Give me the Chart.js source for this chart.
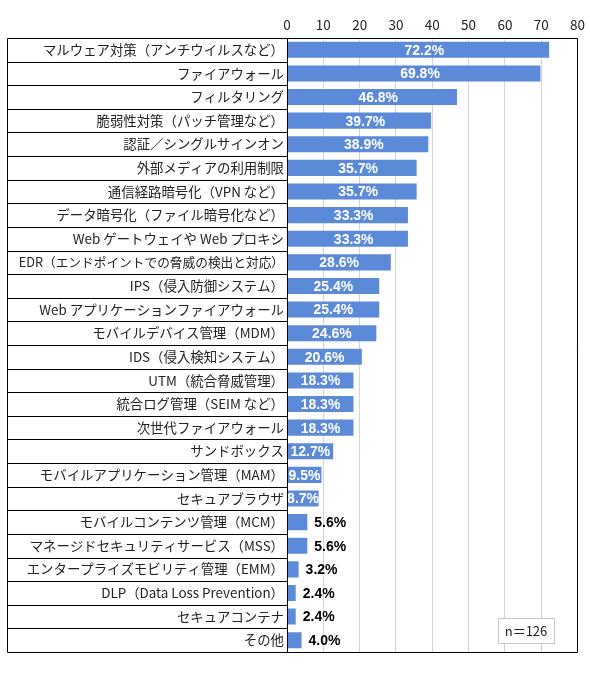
<!DOCTYPE html>
<html lang="ja">
<head>
<meta charset="utf-8">
<script src="https://cdn.jsdelivr.net/npm/chart.js@4/dist/chart.umd.min.js"></script>
<style>
  html, body { margin: 0; padding: 0; background: #fff; }
  canvas { display: block; }
</style>
</head>
<body>
<canvas id="chart" width="590" height="678"></canvas>
<script>
const categories = [
  'マルウェア対策（アンチウイルスなど）',
  'ファイアウォール',
  'フィルタリング',
  '脆弱性対策（パッチ管理など）',
  '認証／シングルサインオン',
  '外部メディアの利用制限',
  '通信経路暗号化（VPN など）',
  'データ暗号化（ファイル暗号化など）',
  'Web ゲートウェイや Web プロキシ',
  'EDR（エンドポイントでの脅威の検出と対応）',
  'IPS（侵入防御システム）',
  'Web アプリケーションファイアウォール',
  'モバイルデバイス管理（MDM）',
  'IDS（侵入検知システム）',
  'UTM（統合脅威管理）',
  '統合ログ管理（SEIM など）',
  '次世代ファイアウォール',
  'サンドボックス',
  'モバイルアプリケーション管理（MAM）',
  'セキュアブラウザ',
  'モバイルコンテンツ管理（MCM）',
  'マネージドセキュリティサービス（MSS）',
  'エンタープライズモビリティ管理（EMM）',
  'DLP（Data Loss Prevention）',
  'セキュアコンテナ',
  'その他'
];
const shares = [72.2, 69.8, 46.8, 39.7, 38.9, 35.7, 35.7, 33.3, 33.3, 28.6, 25.4, 25.4, 24.6,
  20.6, 18.3, 18.3, 18.3, 12.7, 9.5, 8.7, 5.6, 5.6, 3.2, 2.4, 2.4, 4.0];
const xTicks = [0, 10, 20, 30, 40, 50, 60, 70, 80];
const sampleNote = 'n＝126';

const JP = '"Noto Sans CJK JP", "Noto Sans", sans-serif';

// labels with many full-width characters get a slightly smaller size so they fit the column
const wideCount = s => [...s].filter(ch => ch.charCodeAt(0) > 255).length;

// table borders around the label column and the plot frame
const frame = {
  id: 'frame',
  afterDraw(chart) {
    const { ctx, chartArea: a, scales: { y } } = chart;
    const left = 7;
    const step = (y.getPixelForValue(1) - y.getPixelForValue(0));
    ctx.save();
    ctx.strokeStyle = '#000';
    ctx.lineWidth = 1;
    ctx.beginPath();
    ctx.rect(left + 0.5, Math.round(a.top) + 0.5, Math.round(a.right - left) - 1, Math.round(a.bottom - a.top));
    ctx.moveTo(Math.round(a.left) + 0.5, a.top);
    ctx.lineTo(Math.round(a.left) + 0.5, a.bottom);
    for (let i = 1; i < categories.length; i++) {
      const yy = Math.round(y.getPixelForValue(i) - step / 2) + 0.5;
      ctx.moveTo(left, yy);
      ctx.lineTo(a.left, yy);
    }
    ctx.stroke();

    // sample size box
    ctx.font = '13px ' + JP;
    ctx.strokeStyle = '#c8c8c8';
    ctx.fillStyle = '#fff';
    ctx.fillRect(498, 618, 56, 25);
    ctx.strokeRect(498.5, 618.5, 56, 25);
    ctx.fillStyle = '#222';
    ctx.textAlign = 'center';
    ctx.textBaseline = 'middle';
    ctx.fillText(sampleNote, 526, 631);
    ctx.restore();
  }
};

const valueLabels = {
  id: 'valueLabels',
  afterDatasetsDraw(chart) {
    const { ctx } = chart;
    const meta = chart.getDatasetMeta(0);
    ctx.save();
    ctx.font = 'bold 14px "Liberation Sans", Arial, sans-serif';
    ctx.textBaseline = 'middle';
    meta.data.forEach((bar, i) => {
      const v = shares[i];
      const txt = v.toFixed(1) + '%';
      if (v > 8) {
        ctx.fillStyle = '#fff';
        ctx.textAlign = 'center';
        const shift = v > 30 ? 6 : 0;
        ctx.fillText(txt, (bar.base + bar.x) / 2 + shift, bar.y + 1);
      } else {
        ctx.fillStyle = '#000';
        ctx.textAlign = 'left';
        ctx.fillText(txt, bar.x + 7, bar.y + 1);
      }
    });
    ctx.restore();
  }
};

new Chart(document.getElementById('chart'), {
  type: 'bar',
  data: {
    labels: categories,
    datasets: [{
      data: shares,
      backgroundColor: '#5a8ad8',
      barPercentage: 0.68,
      categoryPercentage: 1
    }]
  },
  options: {
    indexAxis: 'y',
    responsive: false,
    animation: false,
    layout: { padding: { left: 7, right: 7, top: 0, bottom: 26 } },
    plugins: { legend: { display: false }, tooltip: { enabled: false } },
    scales: {
      x: {
        position: 'top',
        min: 0,
        max: 80,
        afterBuildTicks: s => { s.ticks = xTicks.map(v => ({ value: v })); },
        afterFit: s => { s.height = 38; },
        grid: { color: '#d4d4d4', drawTicks: false },
        border: { display: false },
        ticks: { padding: 5, color: '#222', font: { family: JP, size: 13.5 } }
      },
      y: {
        afterFit: s => { s.width = 280; },
        grid: { display: false, drawTicks: false },
        border: { display: false },
        ticks: {
          padding: 3, color: '#222', autoSkip: false,
          font: c => ({
            family: JP,
            size: categories[c.index] && wideCount(categories[c.index]) > 18 ? 12.7 : 13.4
          })
        }
      }
    }
  },
  plugins: [frame, valueLabels]
});
</script>
</body>
</html>
